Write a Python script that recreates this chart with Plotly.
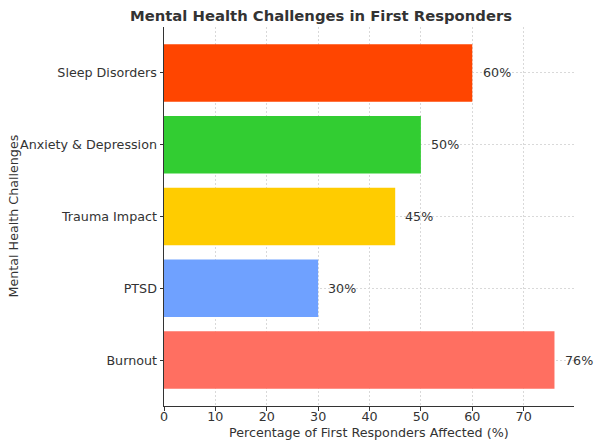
import plotly.graph_objects as go

categories = ["Burnout", "PTSD", "Trauma Impact", "Anxiety & Depression", "Sleep Disorders"]
values = [76, 30, 45, 50, 60]
colors = ["#FF6F61", "#6FA1FF", "#FFCC00", "#32CD32", "#FF4500"]
x_ticks = [0, 10, 20, 30, 40, 50, 60, 70]

W, H = 600, 447
L, R, T, B = 164, 26, 27, 41
pw, ph = W - L - R, H - T - B
font = "DejaVu Sans"
tc = "#333333"
fs = 12.7

fig = go.Figure()
fig.add_trace(go.Bar(
    y=categories, x=values, orientation="h", width=0.8,
    marker=dict(color=colors, line=dict(width=0)),
    hoverinfo="skip",
))

ann = []
for c, v in zip(categories, values):
    ann.append(dict(x=v + 2, y=c, xref="x", yref="y", text=f"{v}%", showarrow=False,
                    xanchor="left", yanchor="middle", xshift=-2,
                    font=dict(family=font, size=fs, color=tc)))
ann.append(dict(x=(321 - L) / pw, y=(H - 15 - B) / ph, xref="paper", yref="paper",
                text="<b>Mental Health Challenges in First Responders</b>", showarrow=False,
                xanchor="center", yanchor="middle", font=dict(family=font, size=14.8, color=tc)))
ann.append(dict(x=(13 - L) / pw, y=0.5, xref="paper", yref="paper", text="Mental Health Challenges",
                showarrow=False, textangle=-90, xanchor="center", yanchor="middle",
                font=dict(family=font, size=fs, color=tc)))
ann.append(dict(x=0.5, y=-(432 - (H - B)) / ph, xref="paper", yref="paper",
                text="Percentage of First Responders Affected (%)", showarrow=False,
                xanchor="center", yanchor="middle", font=dict(family=font, size=fs, color=tc)))

fig.update_layout(
    width=W, height=H, margin=dict(l=L, r=R, t=T, b=B, pad=0),
    paper_bgcolor="white", plot_bgcolor="white", showlegend=False,
    annotations=ann, bargap=0.2,
    font=dict(family=font, size=fs, color=tc),
)
grid = dict(showgrid=True, gridcolor="#d9d9d9", griddash="2px,2px", gridwidth=0.8)
fig.update_xaxes(range=[0, 79.8], tickvals=x_ticks, **grid,
                 showline=True, linecolor="#333333", linewidth=1,
                 ticks="outside", ticklen=3.5, tickcolor="#333333", zeroline=False,
                 ticklabelstandoff=-5,
                 tickfont=dict(family=font, size=fs, color=tc), layer="above traces")
fig.update_yaxes(range=[-0.64, 4.64], **grid,
                 showline=True, linecolor="#333333", linewidth=1,
                 ticks="outside", ticklen=3.5, tickcolor="#333333",
                 tickfont=dict(family=font, size=fs, color=tc), layer="above traces")

fig.write_html("out.html")
